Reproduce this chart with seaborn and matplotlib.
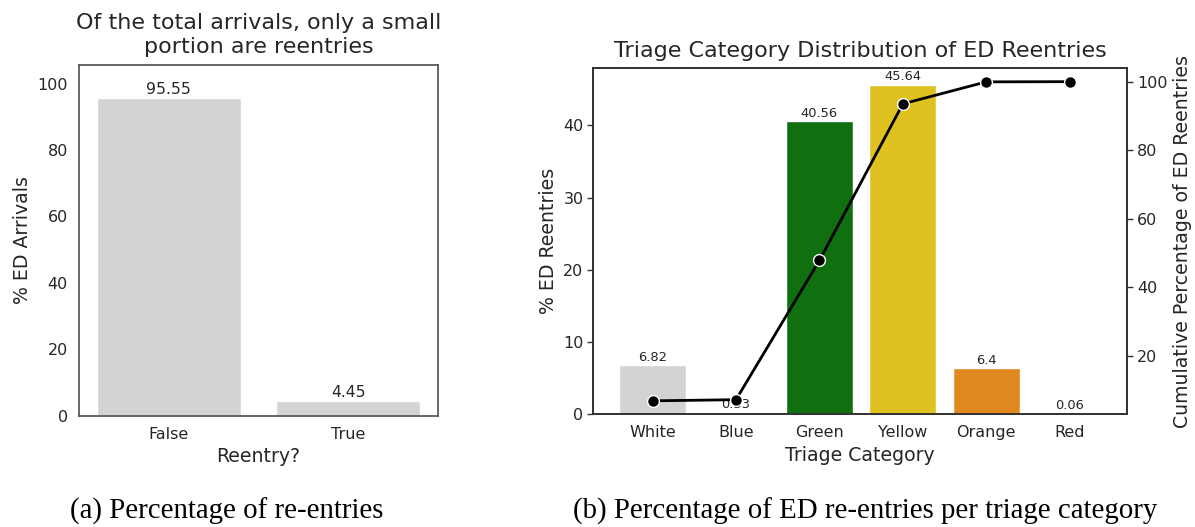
import numpy as np
import pandas as pd
import matplotlib
matplotlib.use("Agg")
import matplotlib.pyplot as plt
import seaborn as sns

# Share of arrivals that are reentries
reentry_labels = ["False", "True"]
reentry_pct = [95.55, 4.45]

# Triage distribution of reentries
triage_categories = ["White", "Blue", "Green", "Yellow", "Orange", "Red"]
triage_pct = [6.82, 0.33, 40.56, 45.64, 6.4, 0.06]
triage_colors = ["lightgray", "royalblue", "green", "gold", "darkorange", "red"]

sns.set_theme(style="white")
plt.rcParams["font.family"] = ["DejaVu Sans"]
plt.rcParams["text.color"] = "#262626"

TICK = 11.5
LABEL = 13.6
TITLE = 16

fig = plt.figure(figsize=(11.95, 5.27), dpi=100)
W, H = 1195, 527


def px_axes(x0, y0, x1, y1):
    return fig.add_axes([x0 / W, 1 - y1 / H, (x1 - x0) / W, (y1 - y0) / H])


# ---- (a) reentry share ----
ax1 = px_axes(79, 65, 438, 415.7)
df_a = pd.DataFrame({"Reentry?": reentry_labels, "pct": reentry_pct})
sns.barplot(data=df_a, x="Reentry?", y="pct", color="lightgray", saturation=1,
            ax=ax1)
for c in ax1.containers:
    ax1.bar_label(c, fmt="%g", fontsize=11.2, padding=1)
ax1.set_ylim(0, 105.6)
ax1.set_xlim(-0.5, 1.5)
ax1.set_ylabel("% ED Arrivals", fontsize=LABEL)
ax1.set_xlabel("Reentry?", fontsize=LABEL)
ax1.tick_params(axis="both", labelsize=TICK, length=0, pad=8)
ax1.set_title("Of the total arrivals, only a small\nportion are reentries",
              fontsize=TITLE, pad=9, linespacing=1.22)
for s in ax1.spines.values():
    s.set_color("#555555")

# ---- (b) triage distribution with cumulative line ----
ax2 = px_axes(593.3, 68.3, 1127.3, 414.3)
df_b = pd.DataFrame({"Triage Category": triage_categories, "pct": triage_pct})
sns.barplot(data=df_b, x="Triage Category", y="pct", hue="Triage Category",
            palette=triage_colors, legend=False, ax=ax2)
for c in ax2.containers:
    ax2.bar_label(c, fmt="%g", fontsize=9.4, padding=1)
ax2.set_ylim(0, 47.92)
ax2.set_ylabel("% ED Reentries", fontsize=LABEL)
ax2.set_xlabel("Triage Category", fontsize=LABEL)
ax2.tick_params(axis="x", labelsize=TICK, length=0, pad=8)
ax2.tick_params(axis="y", labelsize=TICK, left=True, length=4, width=1,
                color="#333333", pad=3)
ax2.set_title("Triage Category Distribution of ED Reentries", fontsize=TITLE,
              pad=8)

ax3 = ax2.twinx()
cum_pct = np.cumsum(triage_pct) / np.sum(triage_pct) * 100
sns.lineplot(x=np.arange(len(triage_categories)), y=cum_pct, color="black",
             marker="o", markersize=8.5, markeredgecolor="white",
             markeredgewidth=1, linewidth=2, ax=ax3)
ax3.set_ylim(2.9, 103.9)
ax3.set_ylabel("Cumulative Percentage of ED Reentries", fontsize=LABEL)
ax3.tick_params(axis="y", labelsize=TICK, right=True, length=4, width=1,
                color="#333333", pad=3)
ax3.grid(False)
ax2.set_xlim(-0.71, 5.69)
for a in (ax2, ax3):
    for s in a.spines.values():
        s.set_color("#333333")

# Sub-figure captions
fig.text(226.5 / W, 1 - 519 / H, "(a) Percentage of re-entries",
         family="Liberation Serif", fontsize=20.8, color="black", ha="center",
         va="baseline")
fig.text(865 / W, 1 - 519 / H,
         "(b) Percentage of ED re-entries per triage category",
         family="Liberation Serif", fontsize=20.8, color="black", ha="center",
         va="baseline")

fig.savefig("out.png", dpi=100)
